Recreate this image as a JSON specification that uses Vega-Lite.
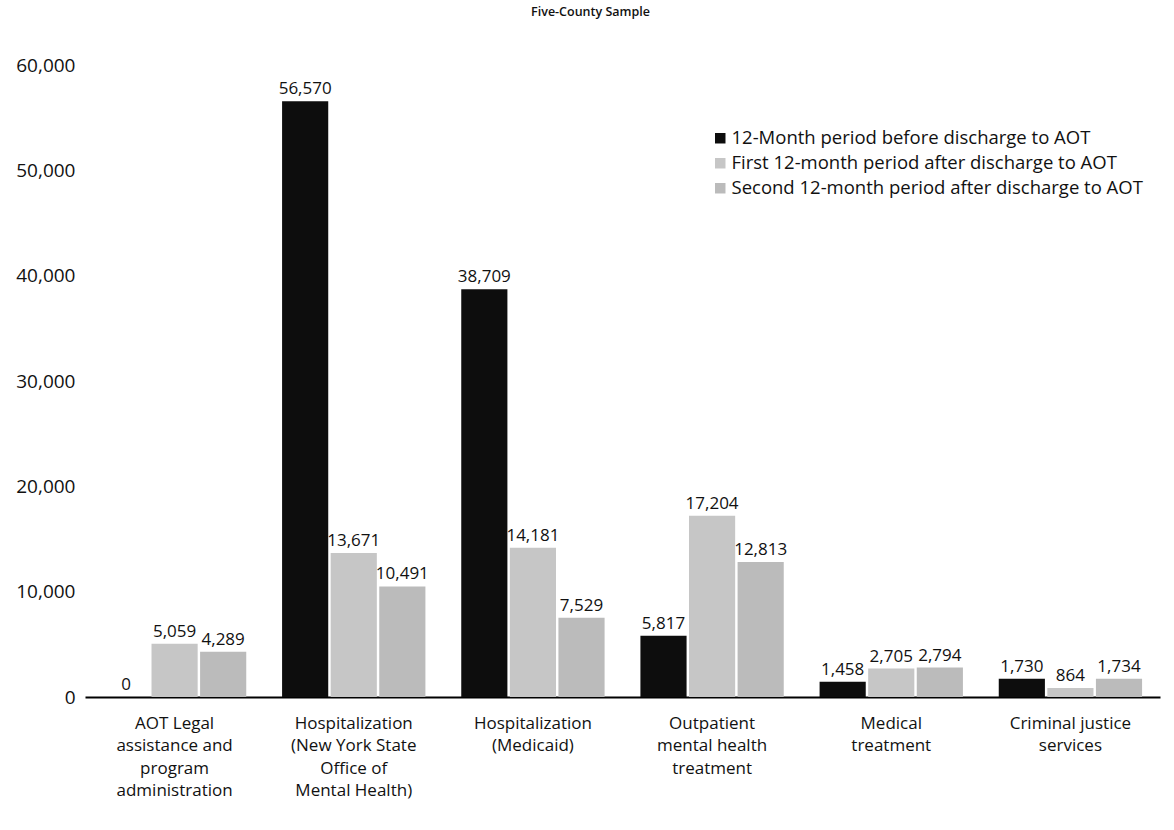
{
  "$schema": "https://vega.github.io/schema/vega-lite/v6.json",
  "width": 1075,
  "height": 632,
  "autosize": {"type": "none"},
  "padding": {"left": 85, "top": 65, "right": 14, "bottom": 133},
  "background": "white",
  "config": {
    "view": {"stroke": null},
    "font": "Open Sans"
  },
  "title": {
    "text": "Five-County Sample",
    "fontSize": 12.5,
    "fontWeight": 600,
    "color": "#111",
    "anchor": "middle",
    "dx": -32,
    "offset": 38,
    "font": "Open Sans"
  },
  "data": {
    "values": [
      {"category": "AOT Legal|assistance and|program|administration", "ord": 1, "period": "12-Month period before discharge to AOT", "p": 1, "cost": 0},
      {"category": "AOT Legal|assistance and|program|administration", "ord": 1, "period": "First 12-month period after discharge to AOT", "p": 2, "cost": 5059},
      {"category": "AOT Legal|assistance and|program|administration", "ord": 1, "period": "Second 12-month period after discharge to AOT", "p": 3, "cost": 4289},
      {"category": "Hospitalization|(New York State|Office of|Mental Health)", "ord": 2, "period": "12-Month period before discharge to AOT", "p": 1, "cost": 56570},
      {"category": "Hospitalization|(New York State|Office of|Mental Health)", "ord": 2, "period": "First 12-month period after discharge to AOT", "p": 2, "cost": 13671},
      {"category": "Hospitalization|(New York State|Office of|Mental Health)", "ord": 2, "period": "Second 12-month period after discharge to AOT", "p": 3, "cost": 10491},
      {"category": "Hospitalization|(Medicaid)", "ord": 3, "period": "12-Month period before discharge to AOT", "p": 1, "cost": 38709},
      {"category": "Hospitalization|(Medicaid)", "ord": 3, "period": "First 12-month period after discharge to AOT", "p": 2, "cost": 14181},
      {"category": "Hospitalization|(Medicaid)", "ord": 3, "period": "Second 12-month period after discharge to AOT", "p": 3, "cost": 7529},
      {"category": "Outpatient|mental health|treatment", "ord": 4, "period": "12-Month period before discharge to AOT", "p": 1, "cost": 5817},
      {"category": "Outpatient|mental health|treatment", "ord": 4, "period": "First 12-month period after discharge to AOT", "p": 2, "cost": 17204},
      {"category": "Outpatient|mental health|treatment", "ord": 4, "period": "Second 12-month period after discharge to AOT", "p": 3, "cost": 12813},
      {"category": "Medical|treatment", "ord": 5, "period": "12-Month period before discharge to AOT", "p": 1, "cost": 1458},
      {"category": "Medical|treatment", "ord": 5, "period": "First 12-month period after discharge to AOT", "p": 2, "cost": 2705},
      {"category": "Medical|treatment", "ord": 5, "period": "Second 12-month period after discharge to AOT", "p": 3, "cost": 2794},
      {"category": "Criminal justice|services", "ord": 6, "period": "12-Month period before discharge to AOT", "p": 1, "cost": 1730},
      {"category": "Criminal justice|services", "ord": 6, "period": "First 12-month period after discharge to AOT", "p": 2, "cost": 864},
      {"category": "Criminal justice|services", "ord": 6, "period": "Second 12-month period after discharge to AOT", "p": 3, "cost": 1734}
    ]
  },
  "encoding": {
    "x": {
      "field": "category",
      "type": "nominal",
      "sort": {"field": "ord"},
      "scale": {"paddingInner": 0.2, "paddingOuter": 0.1},
      "axis": {
        "title": null,
        "labelAngle": 0,
        "labelExpr": "split(datum.label, '|')",
        "labelFontSize": 17,
        "labelLineHeight": 22.5,
        "labelColor": "#111",
        "labelPadding": 18,
        "labelFont": "Open Sans",
        "ticks": false,
        "domainColor": "#000",
        "domainWidth": 2,
        "labelBaseline": "top"
      }
    },
    "xOffset": {
      "field": "period",
      "type": "nominal",
      "sort": {"field": "p"},
      "scale": {"paddingInner": 0.05}
    },
    "y": {
      "field": "cost",
      "type": "quantitative",
      "scale": {"domain": [0, 60000], "nice": false},
      "axis": {
        "title": null,
        "values": [0, 10000, 20000, 30000, 40000, 50000, 60000],
        "format": ",.0f",
        "grid": false,
        "domain": false,
        "ticks": false,
        "labelFontSize": 19,
        "labelColor": "#111",
        "labelPadding": 10,
        "labelFont": "Open Sans"
      }
    }
  },
  "layer": [
    {
      "mark": {"type": "bar"},
      "encoding": {
        "color": {
          "field": "period",
          "type": "nominal",
          "sort": {"field": "p"},
          "scale": {
            "domain": ["12-Month period before discharge to AOT", "First 12-month period after discharge to AOT", "Second 12-month period after discharge to AOT"],
            "range": ["#0d0d0d", "#c6c6c6", "#bbbbbb"]
          },
          "legend": {
            "title": null,
            "orient": "none",
            "legendX": 626,
            "legendY": 64,
            "symbolType": "square",
            "symbolSize": 110,
            "symbolStrokeWidth": 0,
            "labelOffset": 2,
            "labelFontSize": 18.5,
            "labelColor": "#111",
            "labelFont": "Open Sans",
            "rowPadding": 6,
            "labelLimit": 450
          }
        }
      }
    },
    {
      "mark": {"type": "text", "baseline": "bottom", "dy": -3, "fontSize": 17, "color": "#111", "font": "Open Sans"},
      "encoding": {
        "text": {"field": "cost", "type": "quantitative", "format": ","}
      }
    }
  ]
}
